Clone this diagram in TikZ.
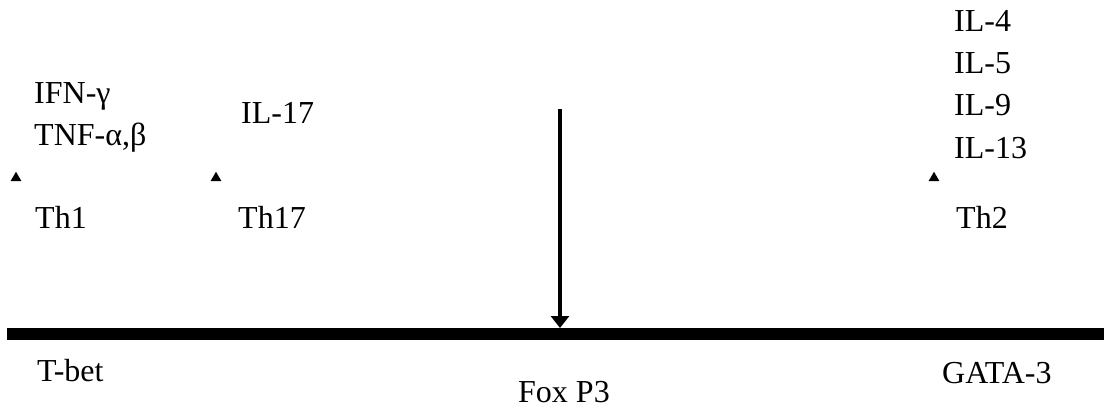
\documentclass[tikz,border=0pt]{standalone}
\usepackage{fontspec}
\setmainfont{Liberation Serif}
\usetikzlibrary{arrows.meta,shapes.geometric}

\begin{document}
\begin{tikzpicture}[x=1pt, y=-1pt, every node/.style={font=\fontsize{32}{38}\selectfont, inner sep=0pt, anchor=base west},
	tip/.style={regular polygon, regular polygon sides=3, fill=black, minimum size=12.5pt, anchor=center},
	>={Triangle[length=12pt, width=18pt]}]
	\useasboundingbox (0,0) rectangle (1104,412);
	\coordinate (barL) at (7,334);
	\coordinate (barR) at (1104,334);
	\coordinate (src) at (560,109);
	\coordinate (hit) at (560,328);
	\draw[line width=12pt] (barL) -- (barR);
	\draw[->, line width=4.8pt] (src) -- (hit);
	\node[tip] (m1) at (16,178) {};
	\node[tip] (m17) at (216,178) {};
	\node[tip] (m2) at (934,178) {};
	\node (ifn) at (34,103) {IFN-γ};
	\node (tnf) at (34,146) {TNF-α,β};
	\node (il17) at (241,124) {IL-17};
	\node (th1) at (35,228) {Th1};
	\node (th17) at (238,228) {Th17};
	\node (th2) at (956,228) {Th2};
	\node (il4) at (954,32) {IL-4};
	\node (il5) at (954,74) {IL-5};
	\node (il9) at (954,116) {IL-9};
	\node (il13) at (954,158) {IL-13};
	\node (tbet) at (37,381) {T-bet};
	\node (fox) at (518,402) {Fox P3};
	\node (gata) at (942,383) {GATA-3};
\end{tikzpicture}
\end{document}
